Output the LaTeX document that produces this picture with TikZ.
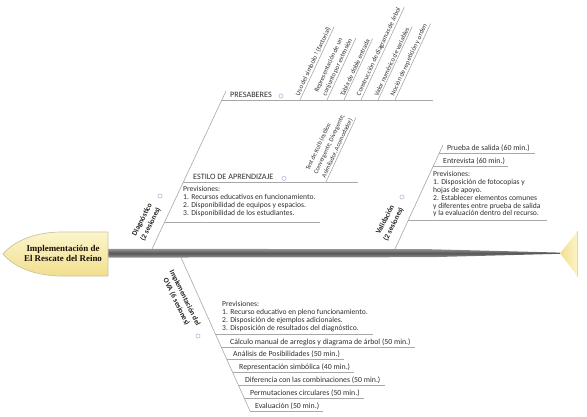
\documentclass[tikz,border=0pt]{standalone}
\usepackage{fontspec}
\setmainfont{Carlito}
\newfontfamily\titlefont{Liberation Serif}
\definecolor{lnc}{HTML}{A8A8A8}
\definecolor{txt}{HTML}{2E2E2E}
\definecolor{headA}{HTML}{FCF5CC}
\definecolor{headB}{HTML}{F1DF8E}
\definecolor{headdraw}{HTML}{CBC4A0}
\definecolor{spA}{HTML}{959595}
\definecolor{spB}{HTML}{575757}
\definecolor{dotc}{HTML}{AFBBDD}
\begin{document}
\begin{tikzpicture}[x=1pt,y=-1pt,
  ln/.style={draw=lnc, line width=0.6pt},
  rs/.style={rotate=65, anchor=south west, inner xsep=3pt, inner ysep=1.2pt,
    font=\fontsize{6.6}{8.8}\selectfont, text=txt, align=left},
  hs/.style={inner xsep=0pt, inner ysep=0pt, font=\fontsize{7.8}{9}\selectfont,
    text=txt, anchor=base west},
  pb/.style={inner sep=0pt, font=\fontsize{7.6}{7.9}\selectfont, text=txt,
    align=left, anchor=north west},
  cat/.style={inner sep=0pt, font=\fontsize{8.2}{9}\selectfont, text=txt,
    anchor=base west},
  bl/.style={font=\bfseries\fontsize{7.4}{9.4}\selectfont, text=black!88,
    align=center, inner sep=0pt},
  dot/.style={circle, draw=dotc, fill=white, line width=0.6pt, inner sep=0pt,
    minimum size=4.2pt},
]
\useasboundingbox (0,0) rectangle (587,417);

% spine
\path[top color=spA, bottom color=spA, middle color=spB]
  (108,248.8) -- (430,249.2) -- (560,252.6) -- (560,253.8) -- (430,257.2) -- (108,257.6) -- cycle;

% head
\path[draw=headdraw, line width=0.7pt, top color=headA, bottom color=headB]
  (108,232) -- (62,232) .. controls (32,232) and (12,243) .. (3,254)
  .. controls (12,265) and (32,276) .. (62,276) -- (108,276) -- cycle;
\node[font=\titlefont\bfseries\fontsize{8.9}{10}\selectfont, text=black!88!brown,
  align=center, inner sep=0pt] (head) at (63,253.5) {Implementación de\\El Rescate del Reino};

% tail
\path[left color=headB, right color=headA] (560,253.2) -- (578,231) -- (578,277) -- cycle;
\draw[draw=black!15, line width=1.3pt] (577.6,231.5) -- (577.6,276.5);

% ---------- Diagnostico branch ----------
\coordinate (dA) at (152,249);
\coordinate (dB) at (226,91);
\draw[ln] (dA) -- (dB);
\node[bl, rotate=63] (diag) at (146.5,222) {Diagnóstico\\(2 sesiones)};
\node[dot] (diagdot) at (160,196) {};

% PRESABERES
\coordinate (pA) at (221.7,100);
\coordinate (pB) at (433,100);
\draw[ln] (pA) -- (pB);
\node[cat] (pres) at (230,98) {PRESABERES};
\node[dot] (presdot) at (281,96) {};
\node[rs] (s1) at (300,100) {Uso del símbolo ! (factorial)};
\node[rs] (s2) at (327,100) {Representación de un\\conjunto por extensión};
\node[rs] (s3) at (344,100) {Tabla de doble entrada};
\node[rs] (s4) at (361,100) {Construcción de diagramas de árbol};
\node[rs] (s5) at (378,100) {Valor numérico de variables};
\node[rs] (s6) at (395,100) {Noción de repetición y orden};
\foreach \i in {1,...,6} \draw[ln] (s\i.south west) -- (s\i.south east);

% ESTILO DE APRENDIZAJE
\coordinate (eA) at (183.4,182);
\coordinate (eB) at (358,182);
\draw[ln] (eA) -- (eB);
\node[cat] (estilo) at (193,180) {ESTILO DE APRENDIZAJE};
\node[dot] (estilodot) at (284,178.5) {};
\node[rs, font=\fontsize{6.3}{8.8}\selectfont] (kolb) at (326,182)
  {Test de Kolb (estilos:\\Convergente, Divergente,\\Asimilador, Acomodador)};
\draw[ln] (kolb.south west) -- (kolb.south east);

% Previsiones (diagnostico)
\node[pb] (prevD) at (183,186) {Previsiones:\\1. Recursos educativos en funcionamiento.\\2. Disponibilidad de equipos y espacios.\\3. Disponibilidad de los estudiantes.};
\coordinate (dP) at (164.6,222);
\draw[ln] (dP) -- ([xshift=4pt]dP -| prevD.east);

% ---------- Validacion branch ----------
\coordinate (vA) at (395,249);
\coordinate (vB) at (443,145);
\draw[ln] (vA) -- (vB);
\node[bl, rotate=63] (valid) at (389.5,222) {Validación\\(2 sesiones)};
\node[dot] (validdot) at (402,197) {};
\coordinate (v1) at (439.1,153.5);
\node[hs] (vn1) at (447,151) {Prueba de salida (60 min.)};
\draw[ln] (v1) -- ([xshift=5pt]v1 -| vn1.east);
\coordinate (v2) at (433.1,166.5);
\node[hs] (vn2) at (443,164) {Entrevista (60 min.)};
\draw[ln] (v2) -- ([xshift=3pt]v2 -| vn2.east);
\node[pb] (prevV) at (433,171) {Previsiones:\\1. Disposición de fotocopias y\\hojas de apoyo.\\2. Establecer elementos comunes\\y diferentes entre prueba de salida\\y la evaluación dentro del recurso.};
\coordinate (vP) at (408.2,220.5);
\draw[ln] (vP) -- ([xshift=6pt]vP -| prevV.east);

% ---------- Implementacion branch ----------
\coordinate (iA) at (181,257.5);
\coordinate (iB) at (250,411);
\draw[ln] (iA) -- (iB);
\node[bl, rotate=-64] (impl) at (180.5,300) {Implementación del\\OVA (6 sesiones)};
\node[dot] (impldot) at (198,336) {};
\node[pb] (prevI) at (222,301) {Previsiones:\\1. Recurso educativo en pleno funcionamiento.\\2. Disposición de ejemplos adicionales.\\3. Disposición de resultados del diagnóstico.};
\coordinate (iP) at (214.9,334);
\draw[ln] (iP) -- ([xshift=5pt]iP -| prevI.east);

\coordinate (i1) at (221.2,347);
\node[hs] (n1) at (230,344.5) {Cálculo manual de arreglos y diagrama de árbol (50 min.)};
\coordinate (i2) at (226.6,359);
\node[hs] (n2) at (233,356.5) {Análisis de Posibilidades (50 min.)};
\coordinate (i3) at (232.5,372);
\node[hs] (n3) at (239,369.5) {Representación simbólica (40 min.)};
\coordinate (i4) at (238.3,385);
\node[hs] (n4) at (245,382.5) {Diferencia con las combinaciones (50 min.)};
\coordinate (i5) at (244.2,398);
\node[hs] (n5) at (250,395.5) {Permutaciones circulares (50 min.)};
\coordinate (i6) at (250,411);
\node[hs] (n6) at (255,408.5) {Evaluación (50 min.)};
\foreach \i in {1,...,6} \draw[ln] (i\i) -- ([xshift=4pt]i\i -| n\i.east);

\end{tikzpicture}
\end{document}
